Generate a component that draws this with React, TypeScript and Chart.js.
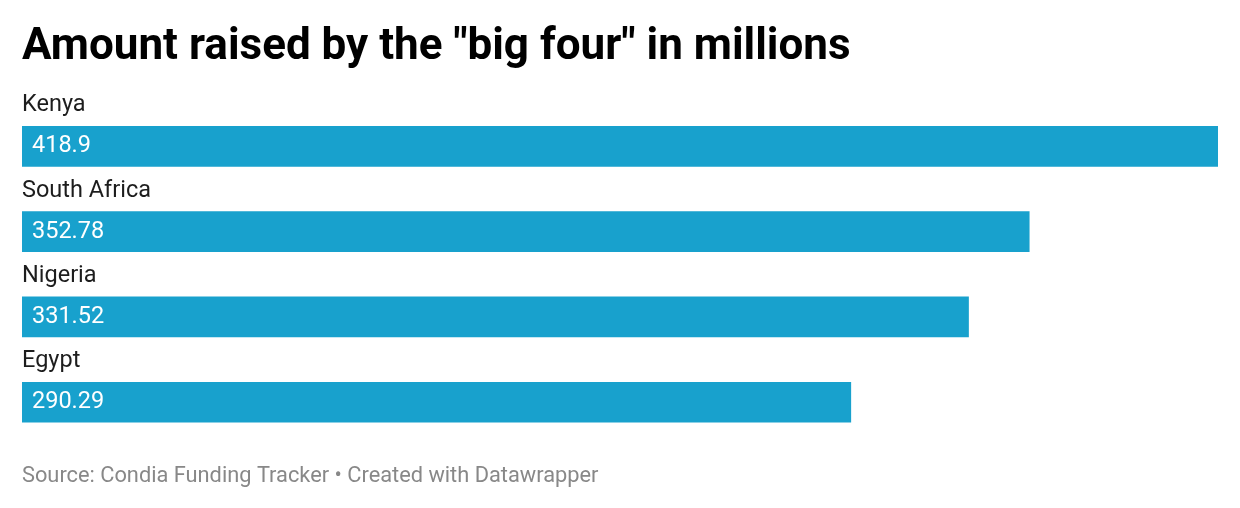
import React, { useEffect, useRef } from "react";
import { Chart, registerables } from "chart.js";

Chart.register(...registerables);

const categories = ["Kenya", "South Africa", "Nigeria", "Egypt"];
const amounts = [418.9, 352.78, 331.52, 290.29];
const valueLabels = ["418.9", "352.78", "331.52", "290.29"];
const titleText = 'Amount raised by the "big four" in millions';
const sourceText = "Source: Condia Funding Tracker • Created with Datawrapper";

const labelPlugin = {
  id: "barLabels",
  afterDatasetsDraw(chart: any) {
    const ctx = chart.ctx;
    const meta = chart.getDatasetMeta(0);
    ctx.save();
    ctx.textBaseline = "middle";
    ctx.textAlign = "left";
    meta.data.forEach((bar: any, i: number) => {
      const left = chart.chartArea.left;
      ctx.font = "23.5px Roboto";
      ctx.fillStyle = "#1d1d1d";
      ctx.fillText(categories[i], left, bar.y - 41);
      ctx.fillStyle = "#ffffff";
      ctx.fillText(valueLabels[i], left + 10, bar.y);
    });
    ctx.restore();
  },
};

export default function App() {
  const ref = useRef<HTMLCanvasElement>(null);
  useEffect(() => {
    document.body.style.margin = "0";
    const chart = new Chart(ref.current!, {
      type: "bar",
      data: {
        labels: categories,
        datasets: [
          {
            data: amounts,
            backgroundColor: "#18a1cd",
            barThickness: 40,
            borderWidth: 0,
          },
        ],
      },
      options: {
        indexAxis: "y",
        animation: false,
        responsive: true,
        maintainAspectRatio: false,
        layout: { padding: { left: 22, right: 22, top: 0, bottom: 0 } },
        scales: {
          x: { display: false, min: 0, max: 418.9 },
          y: { display: false },
        },
        plugins: {
          legend: { display: false },
          tooltip: { enabled: false },
          title: {
            display: true,
            text: titleText,
            align: "start",
            color: "#000000",
            font: { family: "Roboto", size: 44, weight: "bold", lineHeight: 1.2 },
            padding: { top: 22, bottom: 29 },
          },
          subtitle: {
            display: true,
            position: "bottom",
            text: sourceText,
            align: "start",
            color: "#888888",
            font: { family: "Roboto", size: 21.8, lineHeight: 1.2 },
            padding: { top: 19, bottom: 18 },
          },
        },
      },
      plugins: [labelPlugin],
    });
    return () => chart.destroy();
  }, []);
  return (
    <div style={{ position: "absolute", left: 0, top: 0, width: 1240, height: 508, background: "#fff" }}>
      <canvas ref={ref} />
    </div>
  );
}
